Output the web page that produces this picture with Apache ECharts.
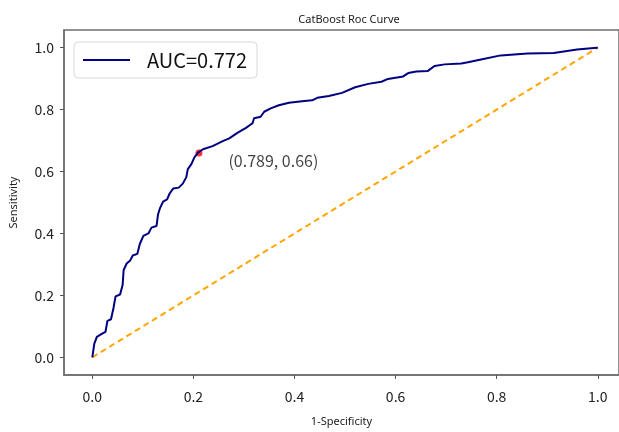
<!DOCTYPE html>
<html>
<head>
<meta charset="utf-8">
<script src="https://cdn.jsdelivr.net/npm/echarts@6/dist/echarts.min.js"></script>
<style>html,body{margin:0;padding:0;background:#fff}#c{width:619px;height:432px}</style>
</head>
<body>
<div id="c"></div>
<script>
// ROC curve: false positive rate (1-Specificity)
const fpr = [0,0.004,0.009,0.017,0.026,0.030,0.037,0.042,0.046,0.055,0.060,0.062,0.068,0.075,0.080,0.089,0.094,0.101,0.111,0.117,0.127,0.130,0.134,0.140,0.148,0.153,0.160,0.171,0.179,0.186,0.189,0.196,0.202,0.209,0.219,0.238,0.258,0.271,0.287,0.304,0.317,0.320,0.333,0.340,0.353,0.369,0.389,0.415,0.435,0.445,0.468,0.494,0.520,0.546,0.572,0.585,0.615,0.625,0.641,0.664,0.677,0.697,0.730,0.743,0.769,0.808,0.861,0.913,0.959,0.998,1.0];
// ROC curve: true positive rate (Sensitivity)
const tpr = [0,0.044,0.066,0.074,0.082,0.118,0.123,0.160,0.197,0.203,0.234,0.282,0.303,0.313,0.329,0.334,0.366,0.392,0.400,0.419,0.424,0.461,0.482,0.503,0.510,0.529,0.545,0.548,0.561,0.582,0.608,0.624,0.646,0.661,0.672,0.682,0.698,0.707,0.725,0.741,0.756,0.772,0.777,0.793,0.804,0.814,0.822,0.827,0.830,0.838,0.844,0.854,0.872,0.883,0.890,0.899,0.907,0.918,0.923,0.925,0.941,0.946,0.949,0.953,0.962,0.975,0.981,0.983,0.994,1.0,1.0];
const diagX = [0, 1];
const diagY = [0, 1];
const bestPoint = [0.211, 0.66]; // (1-Specificity, Sensitivity)
const aucLabel = 'AUC=0.772';
const tickValues = [0, 0.2, 0.4, 0.6, 0.8, 1.0];
const titleText = 'CatBoost Roc Curve';
const xName = '1-Specificity';
const yName = 'Sensitivity';

const rocData = fpr.map((x, i) => [x, tpr[i]]);
const diagData = diagX.map((x, i) => [x, diagY[i]]);
const spec = (1 - bestPoint[0]).toFixed(3);

const chart = echarts.init(document.getElementById('c'), null, {renderer: 'canvas'});
const labelFont = 'Noto Sans CJK SC';
const frameColor = '#6e6e6e';
chart.setOption({
  animation: false,
  backgroundColor: '#fff',
  title: {
    text: titleText, left: 344, top: 9, textAlign: 'center',
    textStyle: {fontSize: 11, fontWeight: 'normal', color: '#222', fontFamily: 'Noto Sans'}
  },
  grid: {
    left: 63, top: 30, right: -3, bottom: 50, show: true,
    borderColor: frameColor, borderWidth: 1.5, containLabel: false
  },
  legend: {
    data: [{name: aucLabel, icon: 'rect'}], left: 74, top: 42, orient: 'horizontal',
    itemWidth: 47, itemHeight: 2,
    padding: [8, 10, 8, 9],
    borderColor: '#d8d8d8', borderWidth: 1, borderRadius: 4,
    textStyle: {fontSize: 20, color: '#111', fontFamily: labelFont, padding: [0, 0, 0, 12]}
  },
  xAxis: {
    type: 'value', min: -0.056, max: 1.042,
    name: xName, nameLocation: 'middle', nameGap: 41,
    nameTextStyle: {fontSize: 11, color: '#222', fontFamily: 'Noto Sans'},
    axisLine: {show: true, onZero: false, lineStyle: {color: frameColor, width: 1.5}},
    axisTick: {show: true, inside: false, length: 4, lineStyle: {color: '#555', width: 1}, customValues: tickValues},
    axisLabel: {
      customValues: tickValues, margin: 15, fontSize: 14, color: '#222', fontFamily: labelFont,
      formatter: v => v.toFixed(1)
    },
    splitLine: {show: false}
  },
  yAxis: {
    type: 'value', min: -0.057, max: 1.057,
    name: yName, nameLocation: 'middle', nameGap: 45,
    nameTextStyle: {fontSize: 11, color: '#222', fontFamily: 'Noto Sans'},
    axisLine: {show: true, onZero: false, lineStyle: {color: frameColor, width: 1.5}},
    axisTick: {show: true, inside: false, length: 4, lineStyle: {color: '#555', width: 1}, customValues: tickValues},
    axisLabel: {
      customValues: tickValues, margin: 10, fontSize: 14, color: '#222', fontFamily: labelFont,
      formatter: v => v.toFixed(1)
    },
    splitLine: {show: false}
  },
  series: [
    {
      type: 'line', name: 'diag', data: diagData, symbol: 'none',
      lineStyle: {color: '#FFA500', width: 2, type: [6, 4]}, z: 1
    },
    {
      type: 'scatter', name: 'best', data: [bestPoint], symbolSize: 7,
      itemStyle: {color: '#ff0000'}, z: 2,
      label: {
        show: true, position: 'right', distance: 0, offset: [26, 8],
        formatter: () => '(' + spec + ', ' + bestPoint[1].toFixed(2) + ')',
        fontSize: 16, color: '#111', fontFamily: labelFont
      }
    },
    {
      type: 'line', name: aucLabel, data: rocData, symbol: 'none',
      lineStyle: {color: '#000080', width: 2}, itemStyle: {color: '#000080'}, z: 3
    }
  ]
});
</script>
</body>
</html>
